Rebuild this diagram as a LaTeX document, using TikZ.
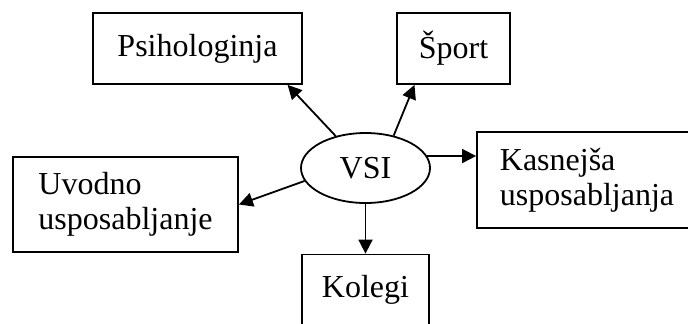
\documentclass[tikz,border=0pt]{standalone}
\usepackage{fontspec}
\setmainfont{Liberation Serif}
\usepackage{tikz}
\usetikzlibrary{shapes.geometric,arrows.meta}

\begin{document}
\begin{tikzpicture}[->,>={Triangle[length=7pt,width=7pt]},x=0.5pt,y=-0.5pt,line width=0.9pt]
  \tikzstyle{box}=[draw,rectangle,align=left,inner sep=0pt,font=\fontsize{16}{17.5}\selectfont]
  \tikzstyle{hub}=[draw,ellipse,minimum width=64.5pt,minimum height=35pt,inner sep=0pt,font=\fontsize{16}{17.5}\selectfont]
  \useasboundingbox (0,0) rectangle (688,323);
  \node[hub] (V) at (365.5,168) {VSI};
  \node[box,minimum width=104.5pt,minimum height=35.5pt] (P) at (197.5,48.5) {Psihologinja};
  \node[box,minimum width=56.5pt,minimum height=35.5pt]  (S) at (453.5,48.5) {Šport};
  \node[box,minimum width=112.5pt,minimum height=47.5pt] (U) at (125.5,204.5) {Uvodno\\usposabljanje};
  \node[box,minimum width=110pt,minimum height=48pt]     (K) at (587,180) {Kasnejša\\usposabljanja};
  \node[box,minimum width=63.5pt,minimum height=35.5pt]  (C) at (365.5,290) {Kolegi};
  \draw (V.133) -- (P.-22);
  \draw (V.49) -- (S.223);
  \draw (V.11) -- (V.11 -| K.west);
  \draw (V.192) -- (U.east);
  \draw (V.south) -- (C.north);
\end{tikzpicture}
\end{document}
